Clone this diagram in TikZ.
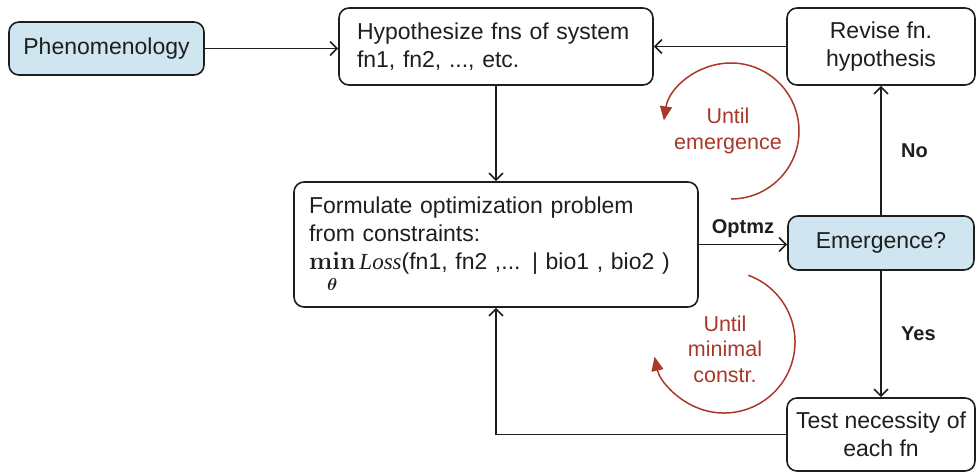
\documentclass[tikz,border=0pt]{standalone}
\usepackage{amsmath}
\usepackage[no-math]{fontspec}
\setmainfont{Liberation Sans}
\newfontfamily\serifit{Liberation Serif}
\usetikzlibrary{arrows.meta}
\definecolor{boxblue}{HTML}{CFE6F1}
\definecolor{loopred}{HTML}{A8382A}
\definecolor{ink}{HTML}{1E1E1E}
\tikzset{
  box/.style={draw=ink, line width=1.6pt, rounded corners=10pt, inner sep=0pt, align=center, text=ink},
  arr/.style={draw=ink, line width=1.6pt, -{Straight Barb[length=7pt,width=14pt]}},
  loopline/.style={draw=loopred, line width=1.5pt, -{Triangle[length=14pt,width=12pt]}},
  redlabel/.style={text=loopred, align=center, font=\fontsize{21.5}{25.5}\selectfont},
  edgelabel/.style={font=\fontsize{20}{24}\selectfont\bfseries, text=ink}
}
\begin{document}
\begin{tikzpicture}[x=1pt,y=1pt, font=\fontsize{23}{28}\selectfont]
\useasboundingbox (0,0) rectangle (977,-474);

\node[box, fill=boxblue, minimum width=195pt, minimum height=53pt] (phen) at (106.5,-48.5) {Phenomenology};
\node[box, minimum width=314pt, minimum height=77pt, text width=278pt, align=left] (hyp) at (496,-46.5) {Hypothesize fns of system\\fn1, fn2, ..., etc.};
\node[box, minimum width=188pt, minimum height=77pt] (rev) at (881,-46.5) {Revise fn.\\hypothesis};
\node[box, minimum width=404pt, minimum height=125pt, text width=374pt, align=left] (form) at (496,-244.5) {Formulate optimization problem\\from constraints:\\$\displaystyle\mathop{\mathbf{min}}\limits_{\rule{0pt}{17pt}\boldsymbol{\theta}}$\,{\serifit\itshape Loss}(fn1, fn2 ,... | bio1 , bio2 )};
\node[box, fill=boxblue, minimum width=186pt, minimum height=54pt] (emer) at (881,-243) {Emergence?};
\node[box, minimum width=188pt, minimum height=73pt] (test) at (881,-434.5) {Test necessity of\\each fn};

\draw[arr] (phen.east) -- (phen.east -| hyp.west);
\draw[arr] (rev.west) -- (hyp.east);
\draw[arr] (hyp.south) -- (form.north);
\draw[arr] (form.east) -- (form.east -| emer.west) node[midway, above=3pt, edgelabel] {Optmz};
\draw[arr] (emer.north) -- (rev.south) node[midway, right=16pt, edgelabel] {No};
\draw[arr] (emer.south) -- (test.north) node[midway, right=16pt, edgelabel] {Yes};
\draw[arr] (test.west) -| (form.south);

\draw[loopline] (731,-199) arc[start angle=-90, end angle=171, radius=68];
\draw[loopline] (724,-342) ++(70:71) arc[start angle=70, end angle=-168, radius=71];

\node[redlabel] (ue) at (728,-131) {Until\\emergence};
\node[redlabel] (umc) at (725,-349) {Until\\minimal\\constr.};
\end{tikzpicture}
\end{document}
